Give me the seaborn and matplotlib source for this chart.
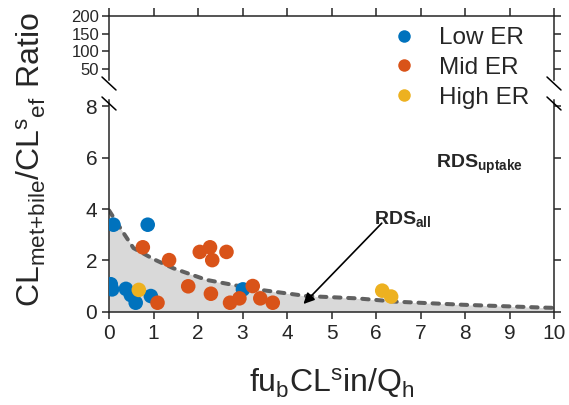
"""
Broken-axis scatter of CL ratio vs fu_b*CL_in/Q_h with RDS region.
"""

import matplotlib
matplotlib.use('Agg')
import matplotlib.pyplot as plt
from matplotlib.lines import Line2D
import seaborn as sns
import pandas as pd

# points
low_x = [0.10, 0.87, 0.04, 0.07, 0.38, 0.49, 0.60, 0.94, 3.01]
low_y = [3.39, 3.39, 1.07, 0.87, 0.89, 0.65, 0.35, 0.61, 0.87]
mid_x = [0.76, 1.35, 1.09, 2.04, 2.27, 2.32, 2.64, 1.78, 2.29, 2.72, 2.93, 3.23, 3.40, 3.68]
mid_y = [2.51, 2.01, 0.35, 2.33, 2.51, 2.01, 2.33, 0.99, 0.70, 0.35, 0.52, 1.00, 0.52, 0.35]
high_x = [0.67, 6.14, 6.34]
high_y = [0.85, 0.82, 0.59]

# RDS_all boundary (dashed line)
curve_x = [0.0, 0.28, 0.55, 1.0, 1.45, 2.19, 3.32, 4.44, 5.57, 6.46, 7.96, 9.76, 10.0]
curve_y = [3.95, 3.19, 2.48, 2.05, 1.69, 1.24, 0.87, 0.61, 0.52, 0.39, 0.27, 0.16, 0.15]

group_names = ['Low ER', 'Mid ER', 'High ER']
palette = {'Low ER': '#0072BD', 'Mid ER': '#D95319', 'High ER': '#EDB120'}

top_ticks = [50, 100, 150, 200]
bot_ticks = [0, 2, 4, 6, 8]
x_ticks = list(range(11))


def build_frame() -> pd.DataFrame:
    rows = []
    for name, xs, ys in zip(group_names, [low_x, mid_x, high_x], [low_y, mid_y, high_y]):
        for x, y in zip(xs, ys):
            rows.append({'x': x, 'y': y, 'group': name})
    return pd.DataFrame(rows)


def make_plot():
    sns.set_style('ticks')
    plt.rcParams['font.family'] = ['Liberation Sans', 'DejaVu Sans']
    plt.rcParams['mathtext.fontset'] = 'custom'
    plt.rcParams['mathtext.rm'] = 'Liberation Sans'
    plt.rcParams['mathtext.bf'] = 'Liberation Sans:bold'
    plt.rcParams['axes.linewidth'] = 1.1

    data = build_frame()

    W, H = 569, 405
    fig = plt.figure(figsize=(W / 100, H / 100), dpi=100)
    left, right = 109 / W, 554 / W
    ax_top = fig.add_axes([left, 1 - 80 / H, right - left, (80 - 15.7) / H])
    ax_bot = fig.add_axes([left, 1 - 311.7 / H, right - left, (311.7 - 100) / H])

    # lower panel
    ax_bot.fill_between(curve_x, curve_y, color='#d9d9d9', lw=0)
    ax_bot.plot(curve_x, curve_y, color='#616161', lw=2.9,
                ls=(0, (1.6, 1.9)), dash_capstyle='round')
    sns.scatterplot(data=data, x='x', y='y', hue='group', hue_order=group_names,
                    palette=palette, s=110, edgecolor='none', ax=ax_bot, zorder=3)
    handles, labels = ax_bot.get_legend_handles_labels()
    ax_bot.get_legend().remove()

    ax_bot.set_xlim(0, 10)
    ax_bot.set_ylim(0, 8.25)
    ax_bot.set_xticks(x_ticks)
    ax_bot.set_yticks(bot_ticks)
    ax_bot.tick_params(axis='both', labelsize=15, length=5, width=1.1)
    ax_bot.tick_params(axis='y', right=True)
    ax_bot.spines['top'].set_visible(False)
    ax_bot.set_xlabel(r'$\mathregular{fu_bCL^sin/Q_h}$', fontsize=23, labelpad=17)
    ax_bot.set_ylabel('')

    ax_bot.text(5.96, 3.43, r'$\mathbf{RDS_{all}}$', fontsize=14, ha='left', va='baseline')
    ax_bot.text(7.35, 5.6, r'$\mathbf{RDS_{uptake}}$', fontsize=14, ha='left', va='baseline')
    ax_bot.annotate('', xy=(4.37, 0.30), xytext=(6.13, 3.45),
                    arrowprops=dict(arrowstyle='-|>', color='black', lw=1.2,
                                    mutation_scale=16, shrinkA=0, shrinkB=0))

    # upper panel
    ax_top.set_xlim(0, 10)
    ax_top.set_ylim(20, 200)
    ax_top.set_yticks(top_ticks)
    ax_top.set_xticks(x_ticks)
    ax_top.tick_params(axis='y', labelsize=12, length=5, width=1.1, pad=2, right=True)
    ax_top.tick_params(axis='x', bottom=False, top=True, labelbottom=False,
                       length=6, width=1.1)
    ax_top.spines['bottom'].set_visible(False)

    leg = fig.legend(handles, labels, loc='upper left',
                     bbox_to_anchor=(392 / W, 1 - 27 / H),
                     frameon=False, fontsize=17.5, handlelength=1.0, handletextpad=0.95,
                     labelspacing=0.32, borderpad=0, borderaxespad=0)
    for h in leg.legend_handles:
        h.set_markersize(9)

    # break marks
    for yb in (80, 100):
        for xb in (109, 554):
            fig.add_artist(Line2D([(xb - 7) / W, (xb + 7) / W],
                                  [1 - (yb - 3) / H, 1 - (yb + 10) / H],
                                  color='black', lw=1.1))

    fig.text(31 / W, 1 - 159 / H,
             r'$\mathregular{CL_{met{+}bile}/CL^{s}{}_{ef}\ Ratio}$',
             rotation=90, fontsize=23, ha='center', va='center')

    fig.savefig('out.png', dpi=100)
    plt.close(fig)


if __name__ == '__main__':
    make_plot()
